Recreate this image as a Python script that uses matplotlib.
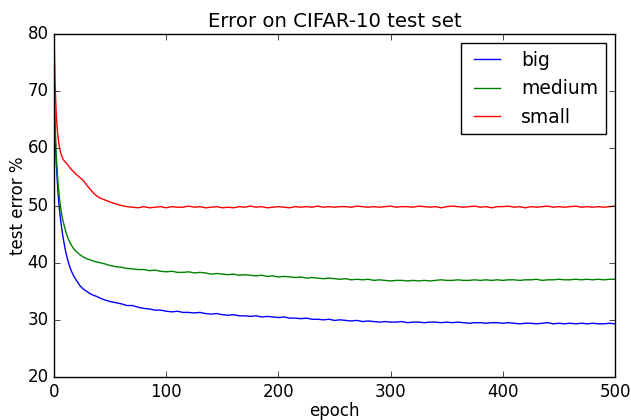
import matplotlib
matplotlib.use("Agg")
import matplotlib.pyplot as plt

plt.style.use("classic")

# epochs (dense at the start, every 5 afterwards)
epochs = [0, 1, 2, 3, 4, 5, 6, 7, 8, 10, 12, 14, 16, 18, 20, 23, 26, 29, 32, 35, 38, 41] \
    + list(range(45, 505, 5))

big = [68.0, 62.0, 57.5, 54.0, 51.0, 49.0, 47.3, 45.8, 44.5, 42.3, 40.6, 39.3, 38.3, 37.5,
       36.9, 36.0, 35.4, 35.0, 34.6, 34.3, 34.1, 33.8,
       33.5, 33.2, 33.0, 32.8, 32.5, 32.5, 32.2, 32.0, 31.9, 31.7,
       31.7, 31.5, 31.4, 31.5, 31.3, 31.3, 31.2, 31.3, 31.1, 31.0,
       31.1, 30.9, 30.8, 30.9, 30.7, 30.7, 30.6, 30.7, 30.5, 30.6,
       30.5, 30.4, 30.5, 30.3, 30.3, 30.2, 30.3, 30.1, 30.1, 30.0,
       30.1, 29.9, 30.0, 29.9, 29.8, 29.9, 29.7, 29.8, 29.7, 29.6,
       29.7, 29.6, 29.6, 29.7, 29.5, 29.6, 29.6, 29.5, 29.6, 29.6,
       29.5, 29.6, 29.5, 29.6, 29.5, 29.4, 29.5, 29.5, 29.4, 29.5,
       29.5, 29.4, 29.5, 29.4, 29.3, 29.4, 29.4, 29.3, 29.4, 29.5,
       29.3, 29.4, 29.3, 29.4, 29.3, 29.4, 29.3, 29.4, 29.3, 29.3,
       29.4, 29.3]

medium = [71.0, 64.0, 59.0, 55.5, 53.0, 51.0, 49.5, 48.3, 47.3, 45.8, 44.5, 43.6, 42.9, 42.3,
          41.9, 41.4, 41.0, 40.7, 40.5, 40.3, 40.1, 40.0,
          39.8, 39.5, 39.3, 39.2, 39.0, 38.9, 38.8, 38.8, 38.6, 38.7,
          38.5, 38.4, 38.5, 38.3, 38.3, 38.4, 38.2, 38.3, 38.2, 38.0,
          38.1, 38.0, 37.9, 38.0, 37.8, 37.9, 37.8, 37.7, 37.8, 37.6,
          37.7, 37.5, 37.6, 37.5, 37.4, 37.5, 37.3, 37.4, 37.3, 37.2,
          37.3, 37.2, 37.1, 37.2, 37.0, 37.1, 37.0, 37.1, 36.9, 37.0,
          36.9, 36.8, 36.9, 36.9, 36.8, 36.9, 36.8, 36.9, 36.8, 36.9,
          37.0, 36.9, 36.9, 37.0, 36.9, 36.9, 37.0, 36.9, 37.0, 36.9,
          37.0, 36.9, 37.0, 37.0, 36.9, 37.0, 37.0, 37.1, 36.9, 37.0,
          37.0, 37.1, 37.0, 37.0, 37.1, 37.0, 37.1, 37.0, 37.1, 37.0,
          37.1, 37.1]

small = [80.0, 71.0, 66.0, 63.0, 61.3, 60.0, 59.2, 58.6, 58.1, 57.6, 57.2, 56.6, 56.2, 55.8,
         55.4, 54.9, 54.4, 53.6, 52.9, 52.2, 51.7, 51.3,
         51.0, 50.6, 50.3, 50.0, 49.8, 49.7, 49.6, 49.8, 49.6, 49.7,
         49.8, 49.6, 49.8, 49.7, 49.7, 49.9, 49.7, 49.8, 49.6, 49.7,
         49.8, 49.6, 49.7, 49.6, 49.8, 49.7, 49.9, 49.7, 49.8, 49.6,
         49.7, 49.8, 49.7, 49.6, 49.8, 49.7, 49.8, 49.7, 49.9, 49.7,
         49.8, 49.7, 49.8, 49.8, 49.7, 49.9, 49.8, 49.7, 49.8, 49.7,
         49.8, 49.9, 49.7, 49.8, 49.8, 49.7, 49.9, 49.8, 49.7, 49.8,
         49.6, 49.8, 49.9, 49.8, 49.7, 49.8, 49.9, 49.7, 49.8, 49.6,
         49.8, 49.8, 49.9, 49.7, 49.8, 49.6, 49.8, 49.7, 49.8, 49.9,
         49.7, 49.8, 49.7, 49.8, 49.9, 49.7, 49.8, 49.7, 49.8, 49.7,
         49.8, 49.9]

series = [("big", big, "b"), ("medium", medium, "g"), ("small", small, "r")]

fig = plt.figure(figsize=(6.31, 4.20), dpi=100, facecolor="white")
ax = fig.add_axes([0.0856, 0.1024, 0.8891, 0.8166])

for name, vals, col in series:
    ax.plot(epochs, vals, color=col, lw=1.0, label=name)

ax.set_xlim(0, 500)
ax.set_ylim(20, 80)
ax.set_xticks([0, 100, 200, 300, 400, 500])
ax.set_yticks([20, 30, 40, 50, 60, 70, 80])
ax.tick_params(labelsize=12)
ax.set_xlabel("epoch", fontsize=12, labelpad=1)
ax.set_ylabel("test error %", fontsize=12, labelpad=0)
ax.set_title("Error on CIFAR-10 test set", fontsize=14.2)
ax.legend(loc="upper right", fontsize=13.5)

fig.savefig("out.png", dpi=100, facecolor="white")
